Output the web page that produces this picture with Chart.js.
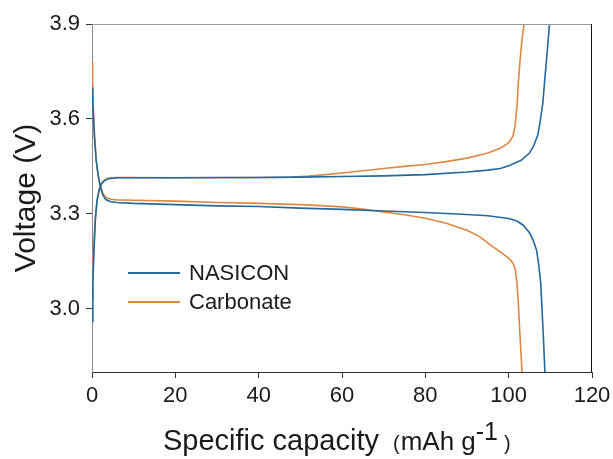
<!DOCTYPE html>
<html>
<head>
<meta charset="utf-8">
<script src="https://cdn.jsdelivr.net/npm/chart.js@4/dist/chart.umd.min.js"></script>
<style>
  body { margin: 0; background: #fff; }
  #wrap { width: 613px; height: 459px; position: relative; }
</style>
</head>
<body>
<div id="wrap"><canvas id="chart"></canvas></div>
<script>
// tick labels
const xTicks = [0, 20, 40, 60, 80, 100, 120];
const yTicks = [3.0, 3.3, 3.6, 3.9];

// NASICON - charge (upper curve)
const nasChargeCap = [0, 0.2, 0.5, 0.8, 1.2, 1.7, 2.3, 3, 4, 6, 10, 20, 30, 40, 50, 60, 70, 80, 90, 95, 98, 100, 103, 105, 106, 107, 107.5, 108.2, 108.7, 109.3, 109.8];
const nasChargeV = [2.96, 3.08, 3.19, 3.28, 3.34, 3.375, 3.395, 3.405, 3.411, 3.414, 3.414, 3.414, 3.415, 3.415, 3.416, 3.418, 3.420, 3.424, 3.432, 3.438, 3.443, 3.452, 3.469, 3.492, 3.515, 3.55, 3.587, 3.65, 3.73, 3.82, 3.90];

// NASICON - discharge (lower curve)
const nasDischCap = [0, 0.15, 0.3, 0.6, 1.0, 1.5, 2.0, 2.6, 3.3, 4.5, 6, 10, 20, 30, 40, 50, 60, 70, 80, 90, 95, 100, 102, 103.5, 105, 105.5, 106, 106.7, 107.2, 107.7, 108.0, 108.3, 108.7];
const nasDischV = [3.70, 3.66, 3.62, 3.54, 3.47, 3.42, 3.385, 3.36, 3.345, 3.338, 3.336, 3.333, 3.329, 3.325, 3.323, 3.318, 3.314, 3.309, 3.304, 3.298, 3.294, 3.285, 3.277, 3.264, 3.24, 3.227, 3.212, 3.185, 3.14, 3.08, 3.0, 2.92, 2.80];

// Carbonate - charge (upper curve)
const carbChargeCap = [0, 0.2, 0.5, 0.8, 1.2, 1.7, 2.3, 3, 4, 6, 10, 20, 30, 40, 48, 52, 56, 60, 65, 70, 75, 80, 85, 90, 95, 98, 100, 101, 101.5, 102, 102.3, 102.7, 103.2, 103.7];
const carbChargeV = [3.03, 3.12, 3.22, 3.29, 3.34, 3.375, 3.396, 3.407, 3.413, 3.415, 3.415, 3.414, 3.414, 3.415, 3.416, 3.419, 3.424, 3.429, 3.436, 3.443, 3.450, 3.456, 3.465, 3.476, 3.492, 3.507, 3.525, 3.545, 3.575, 3.64, 3.71, 3.78, 3.85, 3.90];

// Carbonate - discharge (lower curve)
const carbDischCap = [0, 0.15, 0.3, 0.6, 1.0, 1.5, 2.0, 2.6, 3.3, 4.5, 6, 10, 20, 30, 40, 50, 55, 60, 65, 70, 75, 80, 85, 90, 93, 96, 98, 100, 101, 101.6, 102, 102.3, 102.7, 103.2];
const carbDischV = [3.78, 3.72, 3.64, 3.55, 3.47, 3.42, 3.39, 3.365, 3.352, 3.346, 3.344, 3.343, 3.340, 3.336, 3.333, 3.329, 3.326, 3.322, 3.315, 3.306, 3.297, 3.286, 3.27, 3.248, 3.228, 3.198, 3.18, 3.16, 3.145, 3.125, 3.08, 3.02, 2.92, 2.80];

const blue = '#22699c';
const orange = '#de8742';
const textColor = '#1a1a1a';
const fontFamily = '"Liberation Sans", Arial, sans-serif';

const toPoints = (xs, ys) => xs.map((x, i) => ({ x: x, y: ys[i] }));

const lineSet = (label, xs, ys, color) => ({
  label,
  data: toPoints(xs, ys),
  showLine: true,
  borderColor: color,
  backgroundColor: color,
  borderWidth: 1.6,
  pointRadius: 0,
  tension: 0,
});

// top/right frame lines, in-plot legend and the x axis title (it has a superscript)
const framePlugin = {
  id: 'frame',
  afterDraw(chart) {
    const { ctx, chartArea: a } = chart;
    ctx.save();
    ctx.lineWidth = 1;
    ctx.strokeStyle = '#9a9a9a';
    ctx.beginPath();
    ctx.moveTo(a.left, a.top + 0.5);
    ctx.lineTo(a.right, a.top + 0.5);
    ctx.stroke();
    ctx.strokeStyle = '#111';
    ctx.beginPath();
    ctx.moveTo(a.right - 0.5, a.top);
    ctx.lineTo(a.right - 0.5, a.bottom);
    ctx.stroke();

    // legend
    const items = [['NASICON', blue, 273], ['Carbonate', orange, 302]];
    ctx.font = '22px ' + fontFamily;
    ctx.textBaseline = 'middle';
    ctx.fillStyle = textColor;
    items.forEach(([text, color, y]) => {
      ctx.strokeStyle = color;
      ctx.lineWidth = 1.8;
      ctx.beginPath();
      ctx.moveTo(128, y);
      ctx.lineTo(180, y);
      ctx.stroke();
      ctx.fillText(text, 189, y + 1);
    });

    // x axis title: Specific capacity (mAh g-1)
    const parts = [
      { t: 'Specific capacity', size: 29, rise: 0, gap: 14 },
      { t: '(', size: 20, rise: 0, gap: 1 },
      { t: 'mAh g', size: 26, rise: 0, gap: 0 },
      { t: '-1', size: 25, rise: 10, gap: 6 },
      { t: ')', size: 20, rise: 0, gap: 0 },
    ];
    const baseY = 450;
    let x = 163;
    ctx.textBaseline = 'alphabetic';
    ctx.textAlign = 'left';
    parts.forEach(p => {
      ctx.font = p.size + 'px ' + fontFamily;
      ctx.fillText(p.t, x, baseY - p.rise);
      x += ctx.measureText(p.t).width + p.gap;
    });
    ctx.restore();
  }
};

new Chart(document.getElementById('chart'), {
  type: 'scatter',
  data: {
    datasets: [
      lineSet('NASICON', nasChargeCap, nasChargeV, blue),
      lineSet('NASICON', nasDischCap, nasDischV, blue),
      lineSet('Carbonate', carbChargeCap, carbChargeV, orange),
      lineSet('Carbonate', carbDischCap, carbDischV, orange),
    ],
  },
  options: {
    responsive: true,
    maintainAspectRatio: false,
    animation: false,
    layout: { padding: { top: 24, right: 21, bottom: 0, left: 0 } },
    plugins: {
      legend: { display: false },
      tooltip: { enabled: false },
    },
    scales: {
      x: {
        type: 'linear',
        min: 0,
        max: 120,
        afterBuildTicks: scale => { scale.ticks = xTicks.map(v => ({ value: v })); },
        afterFit: scale => {
          scale.height = 87;
          scale.paddingLeft = 0;
          scale.paddingRight = 0;
        },
        grid: { drawOnChartArea: false, drawTicks: true, tickLength: 6, color: '#333' },
        border: { display: true, color: '#333', width: 1 },
        ticks: { color: textColor, font: { family: fontFamily, size: 22 }, padding: 5, maxRotation: 0 },
        title: { display: false },
      },
      y: {
        type: 'linear',
        min: 2.8,
        max: 3.9,
        afterBuildTicks: scale => { scale.ticks = yTicks.map(v => ({ value: v })); },
        afterFit: scale => {
          scale.width = 92;
          scale.paddingTop = 0;
          scale.paddingBottom = 0;
        },
        grid: { drawOnChartArea: false, drawTicks: true, tickLength: 6, color: '#333' },
        border: { display: true, color: '#8a8a8a', width: 1 },
        ticks: {
          color: textColor,
          font: { family: fontFamily, size: 22 },
          padding: 6,
          callback: v => Number(v).toFixed(1),
        },
        title: {
          display: true,
          text: 'Voltage (V)',
          color: textColor,
          font: { family: fontFamily, size: 30 },
          padding: { top: 9, bottom: 0 },
        },
      },
    },
  },
  plugins: [framePlugin],
});
</script>
</body>
</html>
